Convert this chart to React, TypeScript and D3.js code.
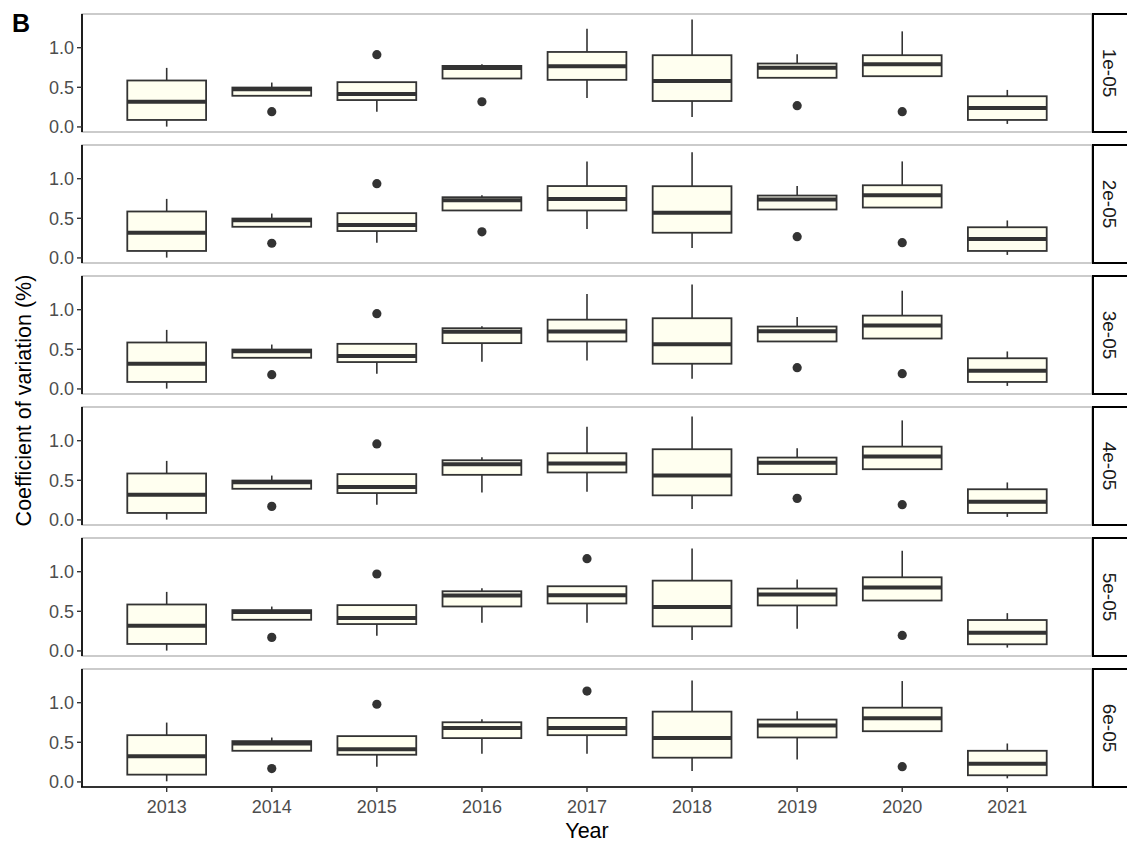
import React from "react";
import * as d3 from "d3";

// Box statistics per year: [lower whisker, Q1, median, Q3, upper whisker]
const years = ["2013", "2014", "2015", "2016", "2017", "2018", "2019", "2020", "2021"];
const facetLabels = ["1e-05", "2e-05", "3e-05", "4e-05", "5e-05", "6e-05"];
const yTicks = [0, 0.5, 1.0];

const stats1e05 = [
  [0.004, 0.088, 0.318, 0.586, 0.745],
  [0.393, 0.393, 0.475, 0.497, 0.56],
  [0.192, 0.339, 0.415, 0.565, 0.565],
  [0.611, 0.611, 0.745, 0.77, 0.791],
  [0.364, 0.594, 0.766, 0.946, 1.239],
  [0.126, 0.327, 0.578, 0.905, 1.357],
  [0.62, 0.62, 0.748, 0.8, 0.917],
  [0.64, 0.64, 0.791, 0.905, 1.206],
  [0.038, 0.088, 0.24, 0.387, 0.467],
];
const stats2e05 = [
  [0.004, 0.088, 0.318, 0.586, 0.745],
  [0.393, 0.393, 0.475, 0.497, 0.56],
  [0.192, 0.339, 0.415, 0.565, 0.565],
  [0.599, 0.599, 0.728, 0.766, 0.791],
  [0.364, 0.599, 0.745, 0.907, 1.218],
  [0.126, 0.318, 0.569, 0.905, 1.335],
  [0.611, 0.611, 0.736, 0.787, 0.908],
  [0.636, 0.636, 0.791, 0.917, 1.218],
  [0.038, 0.088, 0.24, 0.387, 0.473],
];
const stats3e05 = [
  [0.004, 0.088, 0.318, 0.586, 0.745],
  [0.393, 0.393, 0.475, 0.497, 0.56],
  [0.192, 0.339, 0.415, 0.569, 0.569],
  [0.343, 0.578, 0.72, 0.766, 0.791],
  [0.359, 0.599, 0.724, 0.874, 1.197],
  [0.13, 0.318, 0.565, 0.892, 1.319],
  [0.599, 0.599, 0.728, 0.787, 0.908],
  [0.636, 0.636, 0.8, 0.925, 1.239],
  [0.038, 0.088, 0.23, 0.387, 0.473],
];
const stats4e05 = [
  [0.004, 0.088, 0.318, 0.586, 0.745],
  [0.393, 0.393, 0.475, 0.497, 0.56],
  [0.192, 0.339, 0.415, 0.578, 0.578],
  [0.347, 0.569, 0.703, 0.753, 0.791],
  [0.355, 0.599, 0.712, 0.841, 1.176],
  [0.138, 0.31, 0.561, 0.892, 1.306],
  [0.578, 0.578, 0.72, 0.787, 0.904],
  [0.64, 0.64, 0.8, 0.925, 1.256],
  [0.038, 0.088, 0.23, 0.387, 0.473],
];
const stats5e05 = [
  [0.004, 0.088, 0.318, 0.586, 0.745],
  [0.393, 0.393, 0.49, 0.515, 0.56],
  [0.192, 0.339, 0.415, 0.578, 0.578],
  [0.355, 0.561, 0.699, 0.753, 0.791],
  [0.355, 0.599, 0.703, 0.816, 0.816],
  [0.138, 0.31, 0.553, 0.887, 1.294],
  [0.28, 0.574, 0.711, 0.787, 0.9],
  [0.636, 0.636, 0.8, 0.929, 1.264],
  [0.042, 0.084, 0.23, 0.39, 0.477],
];
const stats6e05 = [
  [0.008, 0.092, 0.323, 0.59, 0.749],
  [0.393, 0.393, 0.486, 0.515, 0.56],
  [0.192, 0.343, 0.411, 0.578, 0.578],
  [0.355, 0.553, 0.682, 0.753, 0.791],
  [0.355, 0.59, 0.682, 0.808, 0.808],
  [0.138, 0.306, 0.553, 0.887, 1.281],
  [0.284, 0.561, 0.712, 0.787, 0.892],
  [0.64, 0.64, 0.804, 0.937, 1.273],
  [0.045, 0.084, 0.23, 0.393, 0.485],
];

// Outlying points: [year, value]
const outliers1e05: [string, number][] = [["2014", 0.192], ["2015", 0.912], ["2016", 0.318], ["2019", 0.268], ["2020", 0.192]];
const outliers2e05: [string, number][] = [["2014", 0.185], ["2015", 0.937], ["2016", 0.33], ["2019", 0.268], ["2020", 0.192]];
const outliers3e05: [string, number][] = [["2014", 0.18], ["2015", 0.95], ["2019", 0.268], ["2020", 0.192]];
const outliers4e05: [string, number][] = [["2014", 0.171], ["2015", 0.959], ["2019", 0.272], ["2020", 0.192]];
const outliers5e05: [string, number][] = [["2014", 0.171], ["2015", 0.971], ["2017", 1.164], ["2020", 0.196]];
const outliers6e05: [string, number][] = [["2014", 0.168], ["2015", 0.98], ["2017", 1.147], ["2020", 0.192]];

const facetStats = [stats1e05, stats2e05, stats3e05, stats4e05, stats5e05, stats6e05];
const facetOutliers = [outliers1e05, outliers2e05, outliers3e05, outliers4e05, outliers5e05, outliers6e05];

const W = 1127;
const H = 844;
const left = 82;
const right = 1092;
const top0 = 14;
const panelStep = 131;
const panelH = 118;
const stripW = 40;
const font = "'Liberation Sans', Arial, sans-serif";
const ink = "#333333";
const fill = "#FFFFF0";
const tickSize = 18;

export default function App() {
  const x = d3.scalePoint<string>().domain(years).range([left, right]).padding(0.806);
  const bw = x.step() * 0.75;
  const lastBottom = top0 + (facetLabels.length - 1) * panelStep + panelH;

  return (
    <svg
      width={W}
      height={H}
      style={{ position: "absolute", left: 0, top: 0, background: "#fff" }}
      fontFamily={font}
    >
      <rect width={W} height={H} fill="#fff" />
      <text x={12} y={32} fontSize={25} fontWeight="bold" fill="#000">B</text>

      {facetLabels.map((lab, i) => {
        const pt = top0 + i * panelStep;
        const y = d3.scaleLinear().domain([-0.064, 1.425]).range([pt + panelH, pt]);
        const stats = facetStats[i];
        const outs = facetOutliers[i];
        return (
          <g key={lab}>
            <rect x={left} y={pt} width={right - left} height={panelH} fill="#fff" stroke="#b0b0b0" strokeWidth={1.3} />
            {stats.map((s, j) => {
              const cx = x(years[j])!;
              const [lo, q1, med, q3, hi] = s;
              return (
                <g key={years[j]}>
                  <line x1={cx} x2={cx} y1={y(hi)} y2={y(q3)} stroke={ink} strokeWidth={1.6} />
                  <line x1={cx} x2={cx} y1={y(q1)} y2={y(lo)} stroke={ink} strokeWidth={1.6} />
                  <rect x={cx - bw / 2} y={y(q3)} width={bw} height={y(q1) - y(q3)} fill={fill} stroke={ink} strokeWidth={1.8} />
                  <line x1={cx - bw / 2} x2={cx + bw / 2} y1={y(med)} y2={y(med)} stroke={ink} strokeWidth={4} />
                </g>
              );
            })}
            {outs.map(([yr, v], k) => (
              <circle key={k} cx={x(yr)!} cy={y(v)} r={4.6} fill={ink} />
            ))}
            {/* y axis */}
            <line x1={left} x2={left} y1={pt} y2={pt + panelH} stroke="#000" strokeWidth={1.7} />
            {yTicks.map((t) => (
              <g key={t}>
                <line x1={left - 5} x2={left} y1={y(t)} y2={y(t)} stroke="#333" strokeWidth={1.4} />
                <text x={left - 8} y={y(t)} dy="0.36em" textAnchor="end" fontSize={tickSize} fill="#4d4d4d">
                  {d3.format(".1f")(t)}
                </text>
              </g>
            ))}
            {/* facet strip */}
            <rect x={right + 1} y={pt} width={stripW} height={panelH} fill="#fff" stroke="#000" strokeWidth={2} />
            <text
              transform={`translate(${right + 11}, ${pt + panelH / 2}) rotate(90)`}
              textAnchor="middle"
              fontSize={19}
              fill="#1a1a1a"
            >
              {lab}
            </text>
          </g>
        );
      })}

      {/* x axis */}
      <line x1={left - 1} x2={right} y1={lastBottom} y2={lastBottom} stroke="#000" strokeWidth={1.7} />
      {years.map((yr) => (
        <g key={yr}>
          <line x1={x(yr)} x2={x(yr)} y1={lastBottom} y2={lastBottom + 5} stroke="#333" strokeWidth={1.4} />
          <text x={x(yr)} y={lastBottom + 26} textAnchor="middle" fontSize={tickSize} fill="#4d4d4d">{yr}</text>
        </g>
      ))}
      <text x={(left + right) / 2} y={838} textAnchor="middle" fontSize={21.5} fill="#000">Year</text>
      <text
        transform={`translate(31, ${(top0 + lastBottom) / 2}) rotate(-90)`}
        textAnchor="middle"
        fontSize={21.5}
        fill="#000"
      >
        Coefficient of variation (%)
      </text>
    </svg>
  );
}
